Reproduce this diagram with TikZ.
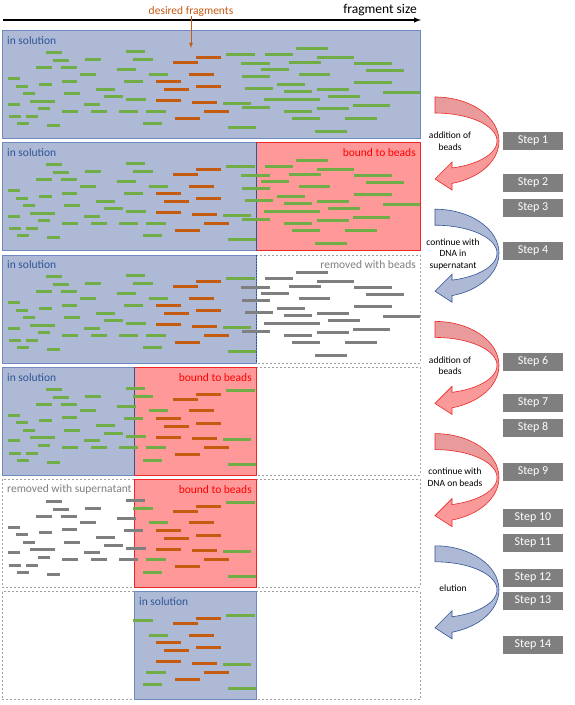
\documentclass[tikz,border=0pt]{standalone}
\usepackage{fontspec}
\setmainfont{Carlito}
\usetikzlibrary{arrows,positioning}

\definecolor{solfill}{RGB}{173,185,213}
\definecolor{solline}{RGB}{111,138,192}
\definecolor{soldark}{RGB}{47,85,151}
\definecolor{beadfill}{RGB}{255,153,153}
\definecolor{beadline}{RGB}{235,40,40}
\definecolor{redtop}{RGB}{230,155,155}
\definecolor{fraggreen}{RGB}{112,173,71}
\definecolor{fragorange}{RGB}{197,90,17}
\definecolor{fraggray}{RGB}{127,127,127}
\definecolor{boxgray}{RGB}{160,160,160}

% fragments as start/end/depth below the panel top
\newcommand\fragsA{46/62/22, 126/145/21, 53/69/30, 85/101/29, 36/52/37, 61/77/37,
  117/136/39, 80/96/43.5, 8/20/48, 62/77/50.5, 124/143/51, 39/52/53.5, 16/28/55.5,
  96/115/58.5, 23/35/63, 64/80/63, 104/123/66, 30/55/70.5, 126/146/69, 8/20/73.5,
  84/100/73.5, 38/50/78, 62/78/80.5, 91/107/80.5, 119/138/80.5, 9/21/86, 26/38/86,
  17/29/93, 47/60/95}
\newcommand\fragsBg{133/153/29, 149/168/43.5, 146/166/80.5, 143/162/93, 223/251/72.5,
  228/256/97, 226/255/23.5}
\newcommand\fragsBo{196/221/27, 173/198/32, 189/214/43.5, 156/181/51, 164/189/59,
  196/221/56, 156/181/70, 192/217/71.5, 204/229/80.5, 175/200/87.5}
\newcommand\fragsC{265/293/23.5, 296/328/18, 317/354/27, 241/270/33, 289/321/32,
  354/392/33, 261/289/39, 366/404/40, 299/330/43.5, 242/270/46, 277/305/53.5,
  354/392/51.5, 245/273/58, 284/312/60.5, 317/349/59, 383/420/61.5, 328/360/66,
  264/320/68.5, 353/390/74.5, 242/270/76.5, 317/349/78, 284/312/80.5, 292/320/87.5,
  345/377/87.5, 315/347/100.5}

\begin{document}
\begin{tikzpicture}[x=1pt, y=-1pt,
gfrag/.style={draw=fraggreen, line width=3pt},
ofrag/.style={draw=fragorange, line width=3pt},
xfrag/.style={draw=fraggray, line width=3pt},
solution/.style={fill=solfill, draw=solline, line width=0.8pt},
beads/.style={fill=beadfill, draw=beadline, line width=0.8pt},
removed/.style={draw=boxgray, line width=0.8pt, dash pattern=on 2pt off 2pt},
divider/.style={draw=soldark, line width=0.9pt},
label/.style={inner sep=0pt, font=\fontsize{11.5}{13}\selectfont},
sollabel/.style={label, text=soldark, anchor=west},
beadlabel/.style={label, text=red, anchor=east},
remlabel/.style={label, text=fraggray},
redbend/.style={draw=beadline, line width=0.6pt, top color=redtop, bottom color=beadfill},
bluebend/.style={draw=soldark, line width=0.6pt, fill=solfill},
bendtext/.style={align=center, inner sep=0pt, font=\fontsize{9.5}{11.5}\selectfont},
stepbox/.style={fill=fraggray, text=white, minimum width=60pt, minimum height=18pt,
  inner sep=0pt, font=\fontsize{12}{14}\selectfont}]
\useasboundingbox (0,0) rectangle (575,705);
\fill[white] (0,0) rectangle (575,705);

% Axis
\coordinate (axstart) at (3,20);
\coordinate (axend) at (421,20);
\draw[line width=1.4pt, arrows={-latex}] (axstart) -- (axend);
\node[label, anchor=east, font=\fontsize{13.5}{15}\selectfont] (fsize) at (417,10) {fragment size};
\node[label, text=fragorange] (desired) at (191,11) {desired fragments};
\coordinate (target) at (191,48);

% Panel 1
\begin{scope}[shift={(0,30.5)}]
\path[solution] (2,0) rectangle (420,108);
\node[sollabel] (sol1) at (7,10) {in solution};
\foreach \a/\b/\y in \fragsA {\draw[gfrag] (\a,\y) -- (\b,\y);}
\foreach \a/\b/\y in \fragsBg {\draw[gfrag] (\a,\y) -- (\b,\y);}
\foreach \a/\b/\y in \fragsBo {\draw[ofrag] (\a,\y) -- (\b,\y);}
\foreach \a/\b/\y in \fragsC {\draw[gfrag] (\a,\y) -- (\b,\y);}
\end{scope}
\draw[fragorange, line width=0.8pt, arrows={-latex}] (desired) -- (target);

% Panel 2
\begin{scope}[shift={(0,142.7)}]
\path[solution] (2,0) rectangle (256,108);
\path[beads] (256,0) rectangle (420,108);
\draw[divider] (256,0) -- (256,108);
\node[sollabel] (sol2) at (7,10) {in solution};
\node[beadlabel] (bead2) at (416,10) {bound to beads};
\foreach \a/\b/\y in \fragsA {\draw[gfrag] (\a,\y) -- (\b,\y);}
\foreach \a/\b/\y in \fragsBg {\draw[gfrag] (\a,\y) -- (\b,\y);}
\foreach \a/\b/\y in \fragsBo {\draw[ofrag] (\a,\y) -- (\b,\y);}
\foreach \a/\b/\y in \fragsC {\draw[gfrag] (\a,\y) -- (\b,\y);}
\end{scope}

% Panel 3
\begin{scope}[shift={(0,254.9)}]
\path[removed] (2,0) rectangle (420,108);
\path[solution] (2,0) rectangle (256,108);
\draw[divider, dash pattern=on 2pt off 1pt] (256,0) -- (256,108);
\node[sollabel] (sol3) at (7,10) {in solution};
\node[remlabel, anchor=east] (rem3) at (416,10) {removed with beads};
\foreach \a/\b/\y in \fragsA {\draw[gfrag] (\a,\y) -- (\b,\y);}
\foreach \a/\b/\y in \fragsBg {\draw[gfrag] (\a,\y) -- (\b,\y);}
\foreach \a/\b/\y in \fragsBo {\draw[ofrag] (\a,\y) -- (\b,\y);}
\foreach \a/\b/\y in \fragsC {\draw[xfrag] (\a,\y) -- (\b,\y);}
\end{scope}

% Panel 4
\begin{scope}[shift={(0,367.1)}]
\path[removed] (2,0) rectangle (420,108);
\path[solution] (2,0) rectangle (134,108);
\path[beads] (134,0) rectangle (256,108);
\draw[divider] (134,0) -- (134,108);
\node[sollabel] (sol4) at (7,10) {in solution};
\node[beadlabel] (bead4) at (252,10) {bound to beads};
\foreach \a/\b/\y in \fragsA {\draw[gfrag] (\a,\y) -- (\b,\y);}
\foreach \a/\b/\y in \fragsBg {\draw[gfrag] (\a,\y) -- (\b,\y);}
\foreach \a/\b/\y in \fragsBo {\draw[ofrag] (\a,\y) -- (\b,\y);}
\end{scope}

% Panel 5
\begin{scope}[shift={(0,479.3)}]
\path[removed] (2,0) rectangle (420,108);
\path[beads] (134,0) rectangle (256,108);
\node[remlabel, anchor=west] (rem5) at (7,10) {removed with supernatant};
\node[beadlabel] (bead5) at (252,10) {bound to beads};
\foreach \a/\b/\y in \fragsA {\draw[xfrag] (\a,\y) -- (\b,\y);}
\foreach \a/\b/\y in \fragsBg {\draw[gfrag] (\a,\y) -- (\b,\y);}
\foreach \a/\b/\y in \fragsBo {\draw[ofrag] (\a,\y) -- (\b,\y);}
\end{scope}

% Panel 6
\begin{scope}[shift={(0,591.5)}]
\path[removed] (2,0) rectangle (420,108);
\path[solution] (134,0) rectangle (256,108);
\node[sollabel] (sol6) at (139,10) {in solution};
\foreach \a/\b/\y in \fragsBg {\draw[gfrag] (\a,\y) -- (\b,\y);}
\foreach \a/\b/\y in \fragsBo {\draw[ofrag] (\a,\y) -- (\b,\y);}
\end{scope}

% Bent arrows
\foreach \t in {97,321.4,433.6}
  \draw[redbend] (435,\t) arc[start angle=90, end angle=-74.6, x radius=64pt, y radius=44pt]
    -- (452,\t+93) -- (435,\t+82) -- (452,\t+65) -- (452,\t+70.93)
    arc[start angle=-74.1, end angle=90, x radius=62pt, y radius=28pt] -- cycle;
\foreach \t in {209.2,545.8}
  \draw[bluebend] (435,\t) arc[start angle=90, end angle=-74.6, x radius=64pt, y radius=44pt]
    -- (452,\t+93) -- (435,\t+82) -- (452,\t+65) -- (452,\t+70.93)
    arc[start angle=-74.1, end angle=90, x radius=62pt, y radius=28pt] -- cycle;
\node[bendtext] (txt1) at (450,141) {addition of\\beads};
\node[bendtext] (txt2) at (453,254) {continue with\\DNA in\\supernatant};
\node[bendtext] (txt3) at (450,365.5) {addition of\\beads};
\node[bendtext] (txt4) at (455,477) {continue with\\DNA on beads};
\node[bendtext] (txt5) at (453,588) {elution};

% Steps
\foreach \n/\y in {1/141, 2/182.5, 3/207.5, 4/251, 6/361.5, 7/402.5, 8/427.5, 9/471.5,
  10/517.5, 11/542.5, 12/577.5, 13/601, 14/645}
  \node[stepbox] (step\n) at (533,\y) {Step \n};
\end{tikzpicture}
\end{document}
